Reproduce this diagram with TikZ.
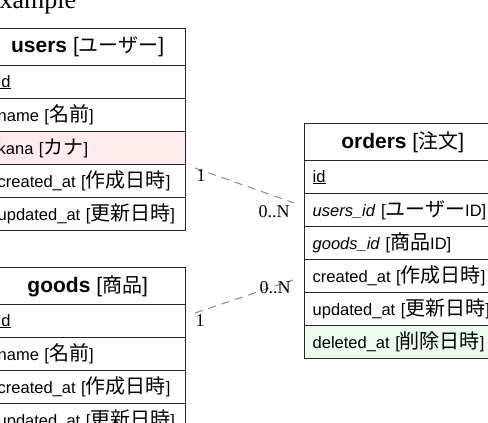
\documentclass[tikz,border=0pt]{standalone}
\usepackage{fontspec}
\setmainfont{Liberation Serif}
\setsansfont{Liberation Sans}
\newfontfamily\jpfont{Noto Sans CJK JP}
\newcommand\jp[1]{{\jpfont\fontsize{20}{20}\selectfont #1}}
\definecolor{pinkrow}{HTML}{FFEBEB}
\definecolor{greenrow}{HTML}{EDFDED}
\definecolor{relgray}{HTML}{8A8A8A}

\begin{document}
\begin{tikzpicture}[x=1pt, y=-1pt,
	tblhead/.style={draw=black!85, line width=1.4pt, fill=white, minimum width=196pt, minimum height=37pt, inner sep=0pt, anchor=north west, font=\sffamily\fontsize{21}{21}\selectfont},
	tblrow/.style={draw=black!85, line width=1.4pt, fill=white, text width=180pt, align=left, inner xsep=8pt, inner ysep=0pt, minimum height=33pt, anchor=north west, font=\sffamily\fontsize{16.5}{16.5}\selectfont},
	rel/.style={draw=relgray, line width=1pt, dash pattern=on 8pt off 6pt},
	card/.style={inner sep=0pt, font=\fontsize{18}{18}\selectfont}]
	\useasboundingbox (0,0) rectangle (488,423);
	\clip (0,0) rectangle (488,423);

	\node[anchor=base west, inner sep=0pt, font=\fontsize{26}{26}\selectfont] (title) at (-16.5,9) {Example};

	% users
	\node[tblhead] (users) at (-11,28) {\textbf{users} [\jp{ユーザー}]};
	\node[tblrow] (usersid) at (-11,65) {\underline{id}};
	\node[tblrow] (usersname) at (-11,98) {name [\jp{名前}]};
	\node[tblrow, fill=pinkrow] (userskana) at (-11,131) {kana [\jp{カナ}]};
	\node[tblrow] (userscreated) at (-11,164) {created\_at [\jp{作成日時}]};
	\node[tblrow] (usersupdated) at (-11,197) {updated\_at [\jp{更新日時}]};

	% goods
	\node[tblhead] (goods) at (-11,267) {\textbf{goods} [\jp{商品}]};
	\node[tblrow] (goodsid) at (-11,304) {\underline{id}};
	\node[tblrow] (goodsname) at (-11,337) {name [\jp{名前}]};
	\node[tblrow] (goodscreated) at (-11,370) {created\_at [\jp{作成日時}]};
	\node[tblrow] (goodsupdated) at (-11,403) {updated\_at [\jp{更新日時}]};

	% orders
	\node[tblhead] (orders) at (304,123) {\textbf{orders} [\jp{注文}]};
	\node[tblrow] (ordersid) at (304,160) {\underline{id}};
	\node[tblrow] (ordersusers) at (304,193) {\textit{users\_id} [\jp{ユーザー}ID]};
	\node[tblrow] (ordersgoods) at (304,226) {\textit{goods\_id} [\jp{商品}ID]};
	\node[tblrow] (orderscreated) at (304,259) {created\_at [\jp{作成日時}]};
	\node[tblrow] (ordersupdated) at (304,292) {updated\_at [\jp{更新日時}]};
	\node[tblrow, fill=greenrow] (ordersdeleted) at (304,325) {deleted\_at [\jp{削除日時}]};

	% relations
	\coordinate (uo1) at (195,168);
	\coordinate (uo2) at (294,203);
	\coordinate (go1) at (195,313);
	\coordinate (go2) at (293,280);
	\draw[rel] (uo1) -- (uo2);
	\draw[rel] (go1) -- (go2);
	\node[card] (uocard1) at (201,176) {1};
	\node[card] (uocard2) at (274,212) {0..N};
	\node[card] (gocard1) at (200,321) {1};
	\node[card] (gocard2) at (275,288) {0..N};
\end{tikzpicture}
\end{document}
